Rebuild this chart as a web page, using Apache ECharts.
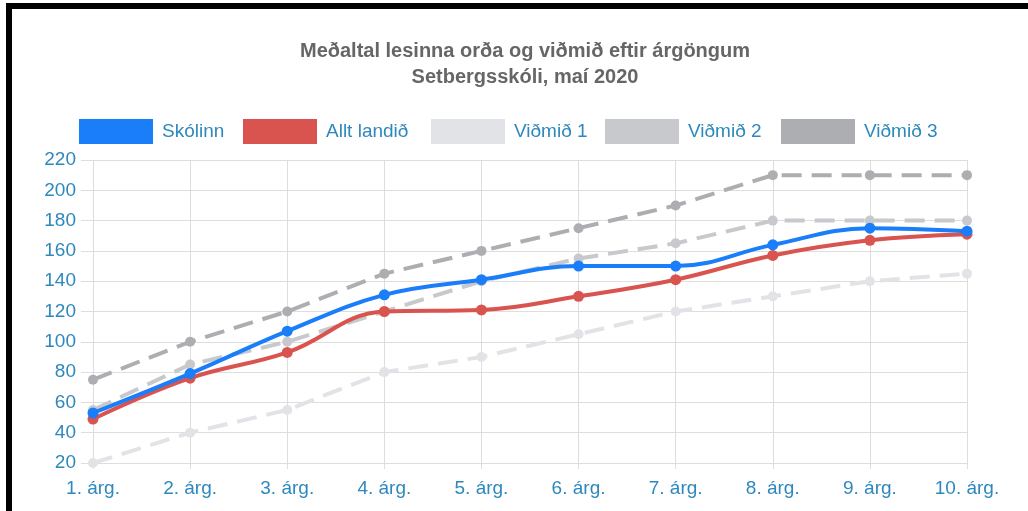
<!DOCTYPE html>
<html>
<head>
<meta charset="utf-8">
<script src="https://cdn.jsdelivr.net/npm/echarts@6/dist/echarts.min.js"></script>
<style>
  html, body { margin: 0; padding: 0; background: #fff; }
  #main { position: absolute; left: 0; top: 0; width: 1028px; height: 511px; }
  #frame {
    position: absolute; left: 6px; top: 3px; width: 1040px; height: 502px;
    border-top: 6px solid #000; border-left: 6px solid #000; border-bottom: 3px solid #111;
    pointer-events: none;
  }
</style>
</head>
<body>
<div id="main"></div>
<div id="frame"></div>
<script>
var categories = ['1. árg.', '2. árg.', '3. árg.', '4. árg.', '5. árg.', '6. árg.', '7. árg.', '8. árg.', '9. árg.', '10. árg.'];
var skolinn = [53, 79, 107, 131, 141, 150, 150, 164, 175, 173];
var alltLandid = [49, 76, 93, 120, 121, 130, 141, 157, 167, 171];
var vidmid1 = [20, 40, 55, 80, 90, 105, 120, 130, 140, 145];
var vidmid2 = [55, 85, 100, 120, 140, 155, 165, 180, 180, 180];
var vidmid3 = [75, 100, 120, 145, 160, 175, 190, 210, 210, 210];

var fontFam = "'Liberation Sans', Arial, sans-serif";
var labelColor = '#2e88bd';
var gridColor = '#dedede';

var names = ['Skólinn', 'Allt landið', 'Viðmið 1', 'Viðmið 2', 'Viðmið 3'];
var colors = ['#1a7efb', '#d9534f', '#e2e3e7', '#c8c9cc', '#adaeb1'];
var legendX = [79, 243, 431, 605, 781];

var chart = echarts.init(document.getElementById('main'));

function mkLegend(i) {
  return {
    data: [names[i]],
    left: legendX[i],
    top: 119,
    padding: 0,
    icon: 'rect',
    itemWidth: 74,
    itemHeight: 25,
    selectedMode: false,
    itemStyle: { color: colors[i], borderWidth: 0 },
    textStyle: { fontFamily: fontFam, fontSize: 19, color: labelColor, padding: [0, 0, 0, 4] }
  };
}

function mkSeries(i, data, dashed, z) {
  return {
    name: names[i],
    type: 'line',
    data: data,
    z: z,
    smooth: dashed ? false : 0.4,
    symbol: 'circle',
    symbolSize: dashed ? 10 : 11,
    itemStyle: { color: colors[i] },
    lineStyle: { color: colors[i], width: 4, type: dashed ? [20, 10] : 'solid' },
    emphasis: { disabled: true }
  };
}

var option = {
  animation: false,
  backgroundColor: '#fff',
  title: {
    text: 'Meðaltal lesinna orða og viðmið eftir árgöngum\nSetbergsskóli, maí 2020',
    left: 520,
    top: 33,
    textAlign: 'center',
    textStyle: { fontFamily: fontFam, fontSize: 20, fontWeight: 'bold', color: '#666', lineHeight: 26 }
  },
  legend: [0, 1, 2, 3, 4].map(mkLegend),
  grid: { left: 93, right: 61, top: 160, bottom: 48 },
  xAxis: {
    type: 'category',
    data: categories,
    boundaryGap: false,
    axisLine: { show: true, lineStyle: { color: gridColor, width: 1 } },
    axisTick: { show: true, length: 6, alignWithLabel: true, lineStyle: { color: gridColor } },
    splitLine: { show: true, lineStyle: { color: gridColor, width: 1 } },
    axisLabel: { fontFamily: fontFam, fontSize: 19, color: labelColor, margin: 16 }
  },
  yAxis: {
    type: 'value',
    min: 20,
    max: 220,
    interval: 20,
    axisLine: { show: false },
    axisTick: { show: true, length: 12, lineStyle: { color: gridColor } },
    splitLine: { show: true, lineStyle: { color: gridColor, width: 1 } },
    axisLabel: { fontFamily: fontFam, fontSize: 19, color: labelColor, margin: 17 }
  },
  series: [
    mkSeries(4, vidmid3, true, 2),
    mkSeries(3, vidmid2, true, 3),
    mkSeries(2, vidmid1, true, 4),
    mkSeries(1, alltLandid, false, 5),
    mkSeries(0, skolinn, false, 6)
  ]
};

chart.setOption(option);
</script>
</body>
</html>
